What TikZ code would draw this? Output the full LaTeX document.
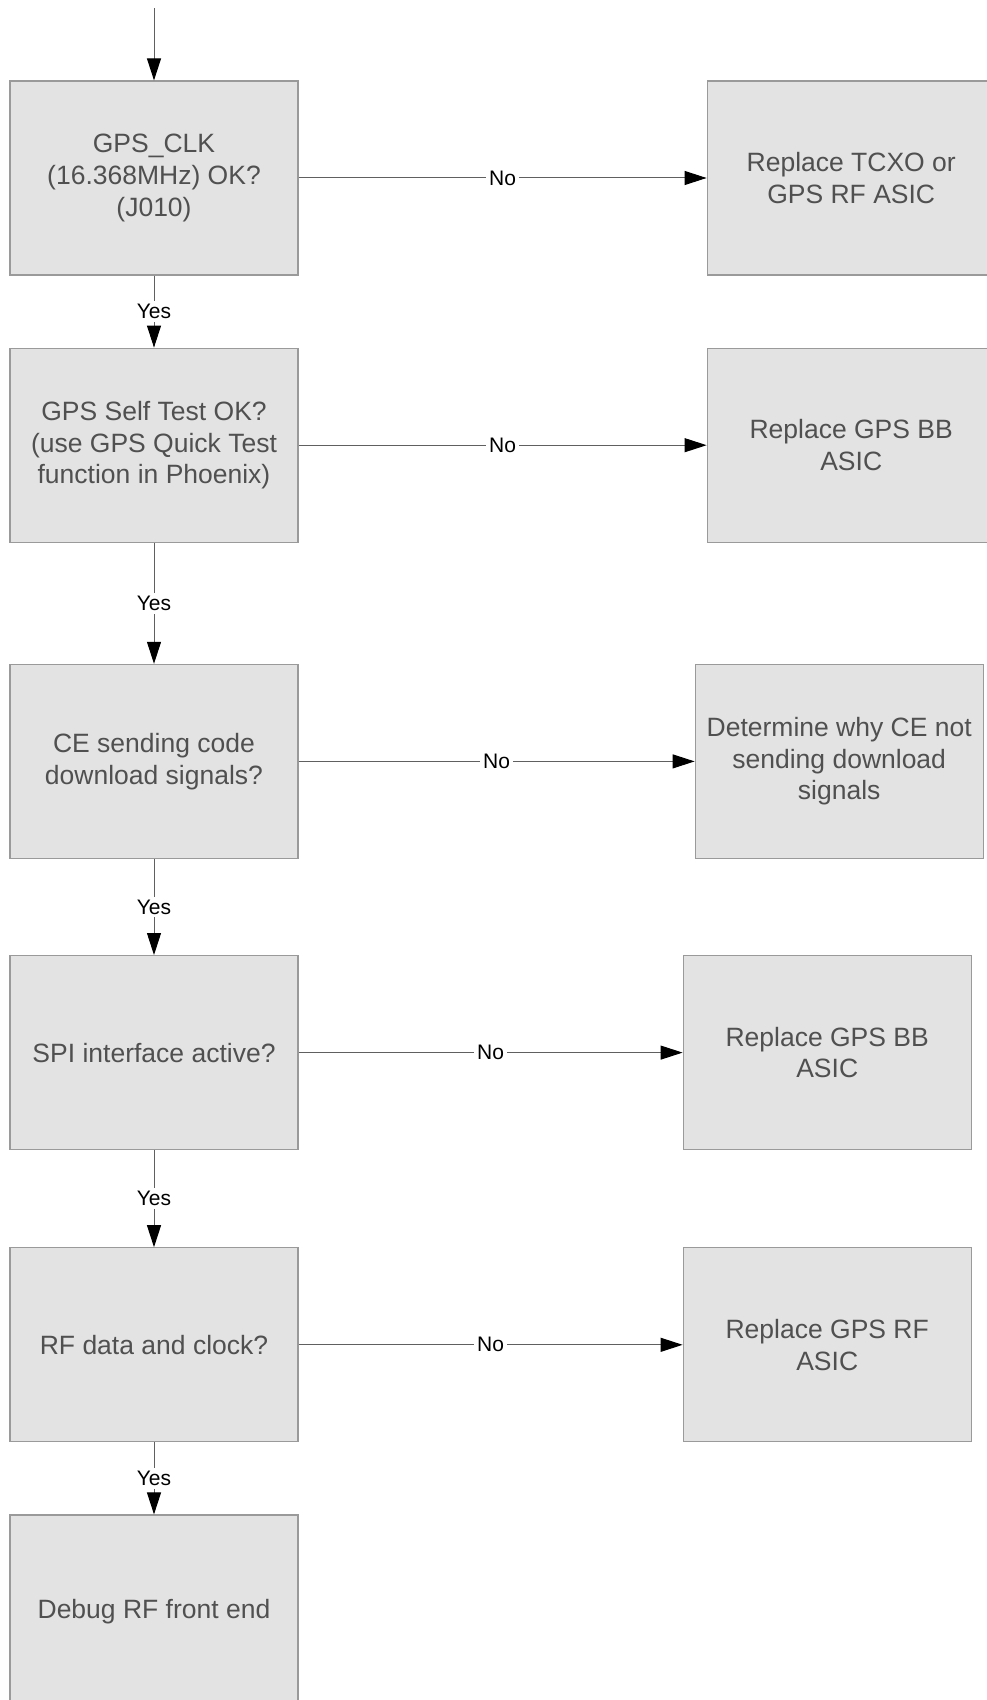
\documentclass[tikz,border=0pt]{standalone}
\usepackage{fontspec}
\setmainfont{Liberation Sans}
\usetikzlibrary{positioning,arrows.meta}
\definecolor{boxfill}{HTML}{E3E3E3}
\definecolor{boxline}{HTML}{9A9A9A}
\definecolor{boxtext}{HTML}{505050}
\definecolor{linegray}{HTML}{606060}
\tikzstyle{block} = [rectangle,draw=boxline,fill=boxfill,line width=0.6pt,align=center,text=boxtext,
  font=\fontsize{13.25}{15.85}\selectfont,minimum width=144pt,minimum height=97pt,inner sep=0pt]
\tikzstyle{line} = [draw=linegray,line width=0.5pt,-{Triangle[length=11pt,width=7pt,color=black]}]
\tikzstyle{lbl} = [fill=white,inner sep=1.5pt,font=\fontsize{10.5}{12}\selectfont,text=black]

\begin{document}
\begin{tikzpicture}
            \useasboundingbox (0,0) rectangle (493pt,-850pt);
            \node[block] (clk) at (77pt,-89pt) {GPS\_CLK\\(16.368MHz) OK?\\(J010)};
            \coordinate (entry) at (77pt,-4pt);
            \draw[line] (entry) -- (clk);
            \path[line] node[block,right=204pt of clk] (tcxo) {Replace TCXO or\\GPS RF ASIC}
            (clk) edge node[lbl] {No} (tcxo);
            \path[line] node[block,below=36pt of clk] (selftest) {GPS Self Test OK?\\(use GPS Quick Test\\function in Phoenix)}
            (clk) edge node[lbl] {Yes} (selftest);
            \path[line] node[block,right=204pt of selftest] (bb1) {Replace GPS BB\\ASIC}
            (selftest) edge node[lbl] {No} (bb1);
            \path[line] node[block,below=60.5pt of selftest] (ce) {CE sending code\\download signals?}
            (selftest) edge node[lbl] {Yes} (ce);
            \path[line] node[block,right=198pt of ce] (why) {Determine why CE not\\sending download\\signals}
            (ce) edge node[lbl] {No} (why);
            \path[line] node[block,below=48pt of ce] (spi) {SPI interface active?}
            (ce) edge node[lbl] {Yes} (spi);
            \path[line] node[block,right=192pt of spi] (bb2) {Replace GPS BB\\ASIC}
            (spi) edge node[lbl] {No} (bb2);
            \path[line] node[block,below=48.5pt of spi] (rf) {RF data and clock?}
            (spi) edge node[lbl] {Yes} (rf);
            \path[line] node[block,right=192pt of rf] (rfasic) {Replace GPS RF\\ASIC}
            (rf) edge node[lbl] {No} (rfasic);
            \path[line] node[block,below=36pt of rf] (debug) {Debug RF front end}
            (rf) edge node[lbl] {Yes} (debug);
\end{tikzpicture}
\end{document}
